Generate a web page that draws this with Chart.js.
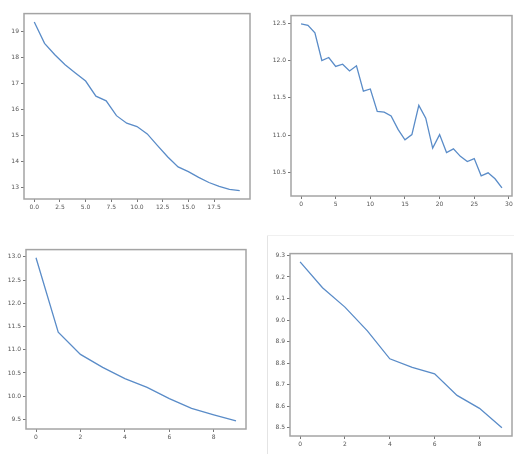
<!DOCTYPE html>
<html>
<head>
<meta charset="utf-8">
<script src="https://cdn.jsdelivr.net/npm/chart.js@4/dist/chart.umd.min.js"></script>
<style>
  html, body { margin: 0; padding: 0; background: #fff; width: 514px; height: 454px; overflow: hidden; }
  .plot { position: absolute; }
  #sepV { position: absolute; left: 267px; top: 235px; width: 1px; height: 219px; background: #e4e4e4; }
  #sepH { position: absolute; left: 267px; top: 235px; width: 247px; height: 1px; background: #f0f0f0; }
</style>
</head>
<body>
<div class="plot" id="p1"><canvas id="c1"></canvas></div>
<div class="plot" id="p2"><canvas id="c2"></canvas></div>
<div class="plot" id="p3"><canvas id="c3"></canvas></div>
<div class="plot" id="p4"><canvas id="c4"></canvas></div>
<div id="sepV"></div>
<div id="sepH"></div>
<script>
// données
const topLeftValues = [19.35, 18.53, 18.09, 17.71, 17.39, 17.08, 16.5, 16.32, 15.75, 15.46, 15.33,
  15.05, 14.6, 14.16, 13.78, 13.6, 13.38, 13.18, 13.03, 12.92, 12.87];
const topLeftXTicks = [0, 2.5, 5, 7.5, 10, 12.5, 15, 17.5];
const topLeftYTicks = [13, 14, 15, 16, 17, 18, 19];

const topRightValues = [12.49, 12.47, 12.37, 12.0, 12.04, 11.92, 11.95, 11.86, 11.93, 11.59, 11.62,
  11.32, 11.31, 11.26, 11.08, 10.94, 11.01, 11.4, 11.23, 10.83, 11.01,
  10.77, 10.82, 10.72, 10.65, 10.69, 10.46, 10.5, 10.42, 10.3];
const topRightXTicks = [0, 5, 10, 15, 20, 25, 30];
const topRightYTicks = [10.5, 11.0, 11.5, 12.0, 12.5];

const bottomLeftValues = [12.98, 11.38, 10.9, 10.62, 10.38, 10.19, 9.95, 9.74, 9.6, 9.47];
const bottomLeftXTicks = [0, 2, 4, 6, 8];
const bottomLeftYTicks = [9.5, 10.0, 10.5, 11.0, 11.5, 12.0, 12.5, 13.0];

const bottomRightValues = [9.27, 9.15, 9.06, 8.95, 8.82, 8.78, 8.75, 8.65, 8.59, 8.5];
const bottomRightXTicks = [0, 2, 4, 6, 8];
const bottomRightYTicks = [8.5, 8.6, 8.7, 8.8, 8.9, 9.0, 9.1, 9.2, 9.3];

// dimensions fixes des axes
const Y_AXIS_W = 20;
const X_AXIS_H = 16;
const PAD = 4;

// cadre complet autour de la zone du graphique
const framePlugin = {
  id: 'frame',
  afterDraw(chart) {
    const a = chart.chartArea;
    const ctx = chart.ctx;
    ctx.save();
    ctx.strokeStyle = '#a4a4a4';
    ctx.lineWidth = 1.5;
    ctx.strokeRect(a.left, a.top, a.right - a.left, a.bottom - a.top);
    ctx.restore();
  }
};

function makePlot(id, frame, values, xTicks, yTicks, xDigits, yDigits) {
  const wrap = document.getElementById('p' + id);
  const w = frame.right - frame.left + Y_AXIS_W + PAD;
  const h = frame.bottom - frame.top + X_AXIS_H + PAD;
  wrap.style.left = (frame.left - Y_AXIS_W) + 'px';
  wrap.style.top = (frame.top - PAD) + 'px';
  wrap.style.width = w + 'px';
  wrap.style.height = h + 'px';

  const n = values.length - 1;
  const lo = Math.min(...values), hi = Math.max(...values);
  const m = (hi - lo) * 0.05;

  const tickStyle = { size: 6, family: 'DejaVu Sans' };
  const gridStyle = { display: true, drawOnChartArea: false, drawTicks: true, tickLength: 3, color: '#777' };

  new Chart(document.getElementById('c' + id).getContext('2d'), {
    type: 'line',
    data: {
      datasets: [{
        data: values.map((v, i) => ({ x: i, y: v })),
        borderColor: '#5a8cc8',
        borderWidth: 1.3,
        pointRadius: 0,
        tension: 0,
        fill: false
      }]
    },
    options: {
      responsive: true,
      maintainAspectRatio: false,
      animation: false,
      events: [],
      layout: { padding: { top: PAD, right: PAD, left: 0, bottom: 0 } },
      plugins: { legend: { display: false }, tooltip: { enabled: false } },
      scales: {
        x: {
          type: 'linear',
          min: -0.05 * n,
          max: 1.05 * n,
          border: { display: false },
          grid: gridStyle,
          afterBuildTicks: s => { s.ticks = xTicks.map(v => ({ value: v })); },
          afterFit: s => { s.height = X_AXIS_H; },
          ticks: {
            color: '#555',
            font: tickStyle,
            padding: 2,
            maxRotation: 0,
            autoSkip: false,
            callback: v => Number(v).toFixed(xDigits)
          }
        },
        y: {
          type: 'linear',
          min: lo - m,
          max: hi + m,
          border: { display: false },
          grid: gridStyle,
          afterBuildTicks: s => { s.ticks = yTicks.map(v => ({ value: v })); },
          afterFit: s => { s.width = Y_AXIS_W; },
          ticks: {
            color: '#555',
            font: tickStyle,
            padding: 2,
            autoSkip: false,
            callback: v => Number(v).toFixed(yDigits)
          }
        }
      }
    },
    plugins: [framePlugin]
  });
}

makePlot(1, { left: 24, top: 12, right: 250, bottom: 199 }, topLeftValues, topLeftXTicks, topLeftYTicks, 1, 0);
makePlot(2, { left: 291, top: 14, right: 512, bottom: 196 }, topRightValues, topRightXTicks, topRightYTicks, 0, 1);
makePlot(3, { left: 26, top: 248, right: 246, bottom: 429 }, bottomLeftValues, bottomLeftXTicks, bottomLeftYTicks, 0, 1);
makePlot(4, { left: 290, top: 252, right: 512, bottom: 436 }, bottomRightValues, bottomRightXTicks, bottomRightYTicks, 0, 1);
</script>
</body>
</html>
